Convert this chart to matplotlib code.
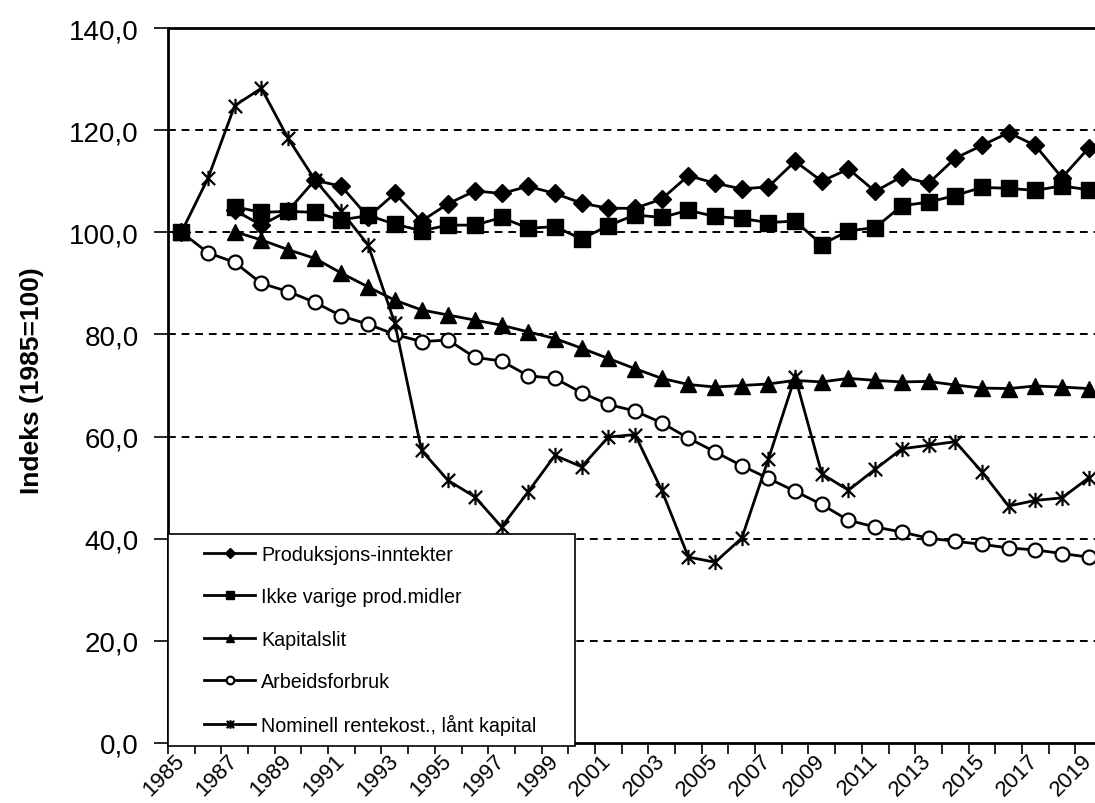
import numpy as np
import matplotlib
matplotlib.use("Agg")
import matplotlib.pyplot as plt
from matplotlib.path import Path
from matplotlib.patches import Rectangle
from matplotlib.ticker import FuncFormatter, MultipleLocator

years = list(range(1985, 2020))
nan = np.nan

produksjon = [100, nan, 104.3, 101.4, 104.2, 110.2, 109.0, 103.0, 107.6, 102.2,
              105.6, 108.1, 107.6, 109.0, 107.6, 105.7, 104.7, 104.7, 106.5, 111.1,
              109.6, 108.5, 108.9, 113.9, 110.0, 112.4, 108.0, 110.9, 109.6, 114.5,
              117.0, 119.5, 117.0, 110.7, 116.5]
ikke_varige = [100, nan, 105.0, 103.9, 104.1, 103.9, 102.4, 103.3, 101.6, 100.3,
               101.4, 101.4, 102.9, 100.8, 101.1, 98.7, 101.3, 103.4, 102.9, 104.3,
               103.1, 102.7, 101.9, 102.2, 97.6, 100.3, 100.9, 105.2, 105.9, 107.2,
               108.8, 108.6, 108.2, 109.1, 108.3]
kapitalslit = [100, nan, 100.1, 98.5, 96.6, 94.9, 92.0, 89.3, 86.7, 84.8,
               83.8, 82.8, 81.8, 80.5, 79.2, 77.3, 75.3, 73.3, 71.4, 70.2,
               69.7, 70.0, 70.3, 71.0, 70.7, 71.4, 71.0, 70.7, 70.8, 70.1,
               69.5, 69.4, 69.9, 69.7, 69.4]
arbeid = [100, 96.0, 94.1, 90.0, 88.4, 86.3, 83.6, 82.0, 80.0, 78.6,
          78.9, 75.5, 74.8, 71.9, 71.4, 68.6, 66.3, 65.0, 62.7, 59.7,
          57.0, 54.3, 51.8, 49.3, 46.7, 43.6, 42.3, 41.3, 40.1, 39.5,
          38.9, 38.2, 37.8, 37.1, 36.4]
rente = [100, 110.6, 124.8, 128.2, 118.4, 110.3, 104.1, 97.5, 82.2, 57.3,
         51.4, 48.2, 42.3, 49.2, 56.3, 54.1, 59.9, 60.4, 49.5, 36.4,
         35.4, 40.1, 55.6, 71.7, 52.7, 49.5, 53.6, 57.6, 58.3, 59.0,
         53.1, 46.4, 47.5, 48.0, 51.9]

labels = ["Produksjons-inntekter", "Ikke varige prod.midler", "Kapitalslit",
          "Arbeidsforbruk", "Nominell rentekost., lånt kapital"]

plt.rcParams['font.family'] = ['Liberation Sans', 'DejaVu Sans']

W, H = 1095, 804
fig = plt.figure(figsize=(W / 100, H / 100), dpi=100)
left_px, right_px, top_px, bot_px = 168, 1102, 29, 744
ax = fig.add_axes([left_px / W, (H - bot_px) / H, (right_px - left_px) / W, (bot_px - top_px) / H])

star = Path([(-1, -1), (1, 1), (-1, 1), (1, -1), (0, -1.15), (0, 1.15)],
            [Path.MOVETO, Path.LINETO, Path.MOVETO, Path.LINETO, Path.MOVETO, Path.LINETO])

x = np.array(years)
kw = dict(color='black', lw=2.0)
l_prod, = ax.plot(x, produksjon, marker='D', ms=9, mfc='black', mec='black', zorder=2.2, **kw)
l_arb, = ax.plot(x, arbeid, marker='o', ms=10, mfc='white', mec='black', mew=1.6, zorder=2.0, **kw)
l_kap, = ax.plot(x, kapitalslit, marker='^', ms=11, mfc='black', mec='black', zorder=2.1, **kw)
l_ren, = ax.plot(x, rente, marker=star, ms=11, mfc='none', mec='black', mew=1.6, zorder=2.05, **kw)
l_ikk, = ax.plot(x, ikke_varige, marker='s', ms=11, mfc='black', mec='black', zorder=2.3, **kw)

ax.set_xlim(1984.5, 2019.5)
ax.set_ylim(0, 140)
ax.yaxis.set_major_locator(MultipleLocator(20))
ax.yaxis.set_major_formatter(FuncFormatter(lambda v, p: f"{v:.1f}".replace('.', ',')))
for yv in range(20, 140, 20):
    ax.axhline(yv, color='black', lw=1.4, ls=(0, (4, 3)), zorder=0.5)

ax.set_xticks(years[::2])
ax.set_xticklabels([str(y) for y in years[::2]], rotation=45, ha='right', va='center',
                   rotation_mode='anchor', fontsize=16)
ax.tick_params(axis='x', which='major', length=0, pad=10)
ax.set_xticks(np.arange(1984.5, 2020, 1), minor=True)
ax.tick_params(axis='x', which='minor', length=8, width=1.2, direction='out')
ax.tick_params(axis='y', length=10, width=1.2, direction='out', labelsize=20, pad=11)

for s in ax.spines.values():
    s.set_linewidth(2.0)

ax.set_ylabel("Indeks (1985=100)", fontsize=19, fontweight='bold')
ax.yaxis.set_label_coords(-0.133, 0.508)

# legend frame (pixel box 168..575 x 535..747)
box = Rectangle((168 / W, 1 - 747 / H), (575 - 168) / W, (747 - 535) / H,
                transform=fig.transFigure, facecolor='white', edgecolor='black',
                lw=1.2, zorder=4, clip_on=False)
fig.add_artist(box)

leg = fig.legend([l_prod, l_ikk, l_kap, l_arb, l_ren], labels,
                 loc='upper left', bbox_to_anchor=(204 / W, 1 - 546 / H),
                 bbox_transform=fig.transFigure, fontsize=14.2, frameon=False,
                 markerscale=0.55, handlelength=2.6, labelspacing=1.18,
                 borderpad=0, handletextpad=0.3, borderaxespad=0)
for h in leg.get_lines():
    h.set_linewidth(2.0)
leg.set_zorder(5)

fig.savefig("out.png", dpi=100)
